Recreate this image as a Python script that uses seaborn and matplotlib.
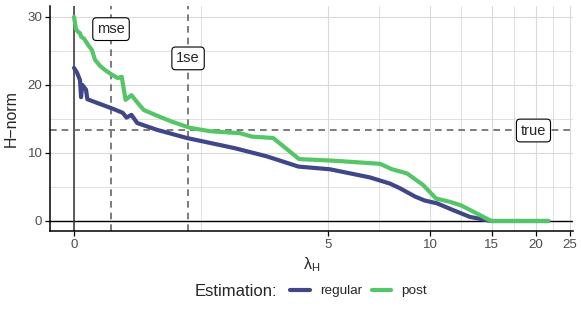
import numpy as np
import pandas as pd
import matplotlib
matplotlib.use('Agg')
import matplotlib.pyplot as plt
import seaborn as sns

# H-norm along the lambda_H path
regular_lambda = [0, 0.039, 0.078, 0.091, 0.108, 0.156, 0.173, 0.339, 0.509, 0.643,
                  0.695, 0.763, 0.844, 1.13, 1.60, 2.49, 3.21, 4.06, 5.08, 5.84,
                  6.69, 7.65, 8.19, 9.04, 9.66, 10.46, 11.64, 13.0, 14.95, 21.7]
regular_norm = [22.5, 21.8, 20.7, 18.2, 20.0, 19.3, 17.9, 17.2, 16.5, 15.9,
                15.2, 15.6, 14.4, 13.4, 12.2, 10.7, 9.5, 8.0, 7.6, 7.0,
                6.4, 5.5, 4.8, 3.6, 3.0, 2.6, 1.6, 0.6, 0.0, 0.0]

post_lambda = [0, 0.026, 0.052, 0.078, 0.091, 0.13, 0.182, 0.234, 0.273, 0.339,
               0.404, 0.497, 0.576, 0.629, 0.682, 0.763, 0.871, 0.939, 1.175, 1.36,
               1.65, 2.00, 2.60, 2.86, 3.37, 4.08, 5.01, 5.45, 7.16, 7.76,
               8.57, 9.54, 10.40, 11.42, 12.26, 13.26, 14.95, 21.7]
post_norm = [30.0, 28.2, 27.8, 27.6, 27.1, 26.8, 25.9, 25.1, 23.7, 22.8,
             22.2, 21.5, 21.0, 21.2, 17.8, 18.5, 17.1, 16.3, 15.3, 14.6,
             13.7, 13.2, 12.9, 12.4, 12.2, 9.1, 8.9, 8.8, 8.4, 7.6,
             7.0, 5.3, 3.3, 2.8, 2.3, 1.4, 0.0, 0.0]

lambda_mse = 0.485
lambda_1se = 1.62
true_norm = 13.4
x_ticks = [0, 5, 10, 15, 20, 25]
y_ticks = [0, 10, 20, 30]
y_minor = [5, 15, 25]
methods = ['regular', 'post']
colors = ['#404788', '#55C667']

df = pd.concat([
    pd.DataFrame({'lambda': regular_lambda, 'norm': regular_norm, 'Estimation': 'regular'}),
    pd.DataFrame({'lambda': post_lambda, 'norm': post_norm, 'Estimation': 'post'}),
])

sns.set_style('white')
plt.rcParams['font.family'] = ['Liberation Sans', 'DejaVu Sans']
plt.rcParams['mathtext.default'] = 'regular'
plt.rcParams['mathtext.fontset'] = 'custom'
plt.rcParams['mathtext.rm'] = 'Liberation Sans'


def fwd(x):
    return np.arcsinh(np.asarray(x) / 2)


def inv(y):
    return 2 * np.sinh(np.asarray(y))


fig = plt.figure(figsize=(5.81, 3.09), dpi=100)
ax = fig.add_axes([50 / 581, 78 / 309, 523 / 581, 225 / 309])
ax.set_xscale('function', functions=(fwd, inv))
ax.set_xlim(2 * np.sinh(-0.156), 2 * np.sinh(3.240))
ax.set_ylim(-1.47, 31.6)

# grid: major + minor (minor at midpoints in transformed space)
x_minor = [float(inv((fwd(a) + fwd(b)) / 2)) for a, b in zip(x_ticks[:-1], x_ticks[1:])]
for v in x_ticks:
    ax.axvline(v, color='#dadada', lw=0.8, zorder=0)
for v in x_minor:
    ax.axvline(v, color='#dadada', lw=0.6, zorder=0)
for v in y_ticks:
    ax.axhline(v, color='#dadada', lw=0.8, zorder=0)
for v in y_minor:
    ax.axhline(v, color='#dadada', lw=0.6, zorder=0)

ax.axhline(0, color='black', lw=1.0, zorder=1)
ax.axvline(0, color='#333333', lw=1.1, zorder=1)
dash = dict(color='#666666', lw=1.2, linestyle=(0, (4, 3)), zorder=1)
ax.axvline(lambda_mse, **dash)
ax.axvline(lambda_1se, **dash)
ax.axhline(true_norm, **dash)

sns.lineplot(data=df, x='lambda', y='norm', hue='Estimation', hue_order=methods,
             palette=colors, estimator=None, sort=False, lw=3, ax=ax, zorder=3)

box = dict(boxstyle='round,pad=0.3,rounding_size=0.25', fc='white', ec='black', lw=0.8)
ax.text(lambda_mse, 28.2, 'mse', ha='center', va='center', fontsize=10.5, bbox=box, zorder=5)
ax.text(lambda_1se, 23.9, '1se', ha='center', va='center', fontsize=10.5, bbox=box, zorder=5)
ax.text(19.7, 13.3, 'true', ha='center', va='center', fontsize=10.5, bbox=box, zorder=5)

ax.set_xticks(x_ticks)
ax.set_xticklabels([str(t) for t in x_ticks])
ax.set_xticks([], minor=True)
ax.set_yticks(y_ticks)
ax.tick_params(axis='both', which='major', length=3.5, width=0.9, color='black',
               labelsize=9.6, labelcolor='#4D4D4D', pad=2, direction='out')
ax.tick_params(bottom=True, left=True)

for s in ['top', 'right']:
    ax.spines[s].set_visible(False)
for s in ['left', 'bottom']:
    ax.spines[s].set_color('black')
    ax.spines[s].set_linewidth(1.1)

ax.set_xlabel(r'$\lambda_H$', fontsize=11.5, labelpad=3)
ax.set_ylabel('H\u2212norm', fontsize=11.4, labelpad=6)

# legend along the bottom, title on the left
ax.get_legend().remove()
handles, labels = ax.get_legend_handles_labels()
fig.text(195 / 581, 1 - 291 / 309, 'Estimation:', fontsize=12, ha='left', va='center')
fig.legend(handles[-2:], labels[-2:], loc='center left', bbox_to_anchor=(290 / 581, 1 - 291 / 309),
           ncol=2, frameon=False, fontsize=9.7, handlelength=1.45, handletextpad=0.75,
           columnspacing=0.75, borderaxespad=0, borderpad=0)

fig.savefig('out.png', dpi=100)
